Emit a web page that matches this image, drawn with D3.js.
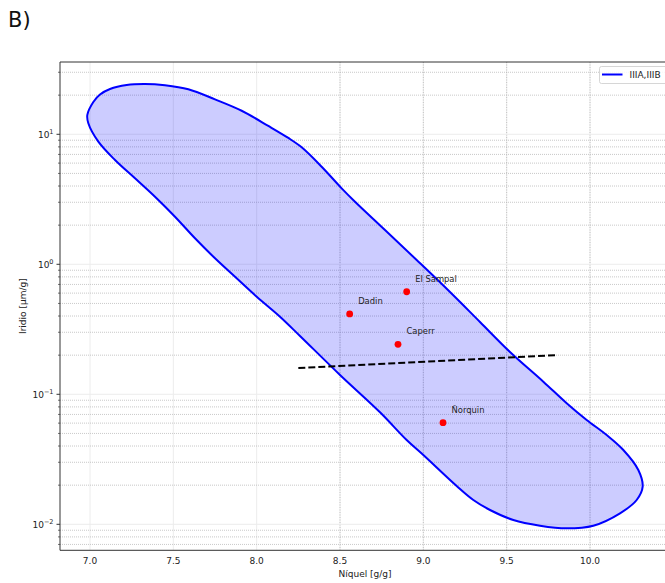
<!DOCTYPE html>
<html>
<head>
<meta charset="utf-8">
<script src="https://cdn.jsdelivr.net/npm/d3@7"></script>
<style>
  body { margin: 0; background: #fff; }
  svg { display: block; font-family: "DejaVu Sans", sans-serif; }
</style>
</head>
<body>
<svg id="chart" width="665" height="583"></svg>
<script>
// ---- data ----
const niquelContour = [6.984, 7.020, 7.060, 7.120, 7.220, 7.330, 7.450, 7.590, 7.750, 7.910, 8.070, 8.190, 8.270, 8.390, 8.510, 8.590, 8.770, 8.960, 9.160, 9.340, 9.520, 9.720, 9.860, 9.980, 10.100, 10.200, 10.290, 10.316, 10.280, 10.180, 10.020, 9.860, 9.700, 9.540, 9.400, 9.300, 9.200, 9.000, 8.900, 8.740, 8.500, 8.260, 8.140, 8.002, 7.880, 7.750, 7.630, 7.510, 7.390, 7.270, 7.150, 7.050, 6.990];
const iridioContour = [14.08, 17.72, 20.24, 22.31, 23.95, 24.37, 23.82, 22.19, 18.55, 15.17, 11.59, 9.37, 7.94, 5.63, 3.84, 3.03, 1.835, 1.079, 0.612, 0.360, 0.2115, 0.125, 0.0853, 0.0634, 0.0486, 0.0373, 0.02617, 0.01947, 0.01538, 0.01215, 0.00976, 0.00932, 0.00976, 0.01079, 0.01288, 0.01538, 0.0197, 0.0341, 0.0445, 0.0727, 0.1408, 0.2809, 0.3953, 0.5604, 0.7804, 1.112, 1.585, 2.323, 3.311, 4.587, 6.344, 8.772, 12.15];

const meteoritos = ["El Sampal", "Dadin", "Caperr", "Ñorquin"];
const niquelPts = [8.90, 8.558, 8.848, 9.118];
const iridioPts = [0.615, 0.415, 0.2425, 0.0605];

const lineaNiquel = [8.25, 9.80];
const lineaIridio = [0.159, 0.200];

const xTicks = [7.0, 7.5, 8.0, 8.5, 9.0, 9.5, 10.0];
const yMajorExp = [-2, -1, 0, 1];
const legendLabel = "IIIA,IIIB";
const panelLabel = "B)";
const xLabel = "Níquel [g/g]";
const yLabel = "Iridio [μm/g]";

// ---- layout ----
const svg = d3.select("#chart");
const L = 60, R = 670, T = 62, B = 550.3;

const x = d3.scaleLinear().domain([6.82, 10.48]).range([L, R]);
const y = d3.scaleLog().domain([Math.pow(10, -2.2), Math.pow(10, 1.556)]).range([B, T]);

// clip
svg.append("defs").append("clipPath").attr("id", "clip")
  .append("rect").attr("x", L).attr("y", T).attr("width", R - L).attr("height", B - T);

const grid = svg.append("g").attr("clip-path", "url(#clip)");

// minor y values
const yMinor = [];
for (let e = -3; e <= 1; e++) {
  for (let m = 2; m <= 9; m++) {
    const v = m * Math.pow(10, e);
    if (v >= y.domain()[0] && v <= y.domain()[1]) yMinor.push(v);
  }
}
const yMajor = yMajorExp.map(e => Math.pow(10, e));

// major faint grid
grid.selectAll(".gx").data(xTicks).join("line")
  .attr("x1", d => x(d)).attr("x2", d => x(d)).attr("y1", T).attr("y2", B)
  .attr("stroke", "#ececec").attr("stroke-width", 1);
grid.selectAll(".gxd").data(xTicks.filter(d => d >= 8.5)).join("line")
  .attr("x1", d => x(d)).attr("x2", d => x(d)).attr("y1", T).attr("y2", B)
  .attr("stroke", "#bdbdbd").attr("stroke-width", 0.9).attr("stroke-dasharray", "1,1.5");
grid.selectAll(".gy").data(yMajor).join("line")
  .attr("x1", L).attr("x2", R).attr("y1", d => y(d)).attr("y2", d => y(d))
  .attr("stroke", "#ececec").attr("stroke-width", 1);
grid.selectAll(".gym").data(yMinor).join("line")
  .attr("x1", L).attr("x2", R).attr("y1", d => y(d)).attr("y2", d => y(d))
  .attr("stroke", "#bababa").attr("stroke-width", 0.8).attr("stroke-dasharray", "1,1");

// contour
const contour = niquelContour.map((v, i) => [x(v), y(iridioContour[i])]);
const lineGen = d3.line().curve(d3.curveCatmullRomClosed.alpha(0.5));
grid.append("path").attr("d", lineGen(contour))
  .attr("fill", "#0000ff").attr("fill-opacity", 0.2)
  .attr("stroke", "#0000ff").attr("stroke-width", 2);

// dashed line
grid.append("line")
  .attr("x1", x(lineaNiquel[0])).attr("y1", y(lineaIridio[0]))
  .attr("x2", x(lineaNiquel[1])).attr("y2", y(lineaIridio[1]))
  .attr("stroke", "#000").attr("stroke-width", 2).attr("stroke-dasharray", "7,3");

// points
grid.selectAll(".pt").data(meteoritos).join("circle")
  .attr("cx", (d, i) => x(niquelPts[i])).attr("cy", (d, i) => y(iridioPts[i]))
  .attr("r", 3.4).attr("fill", "#ff0000");
grid.selectAll(".lbl").data(meteoritos).join("text")
  .attr("x", (d, i) => x(niquelPts[i]) + 8.5).attr("y", (d, i) => y(iridioPts[i]) - 10)
  .attr("font-size", 8.4).attr("fill", "#222").text(d => d);

// spines
svg.append("line").attr("x1", L).attr("x2", L).attr("y1", T).attr("y2", B).attr("stroke", "#333").attr("stroke-width", 1);
svg.append("line").attr("x1", L).attr("x2", R).attr("y1", B).attr("y2", B).attr("stroke", "#333").attr("stroke-width", 1);
svg.append("line").attr("x1", L).attr("x2", R).attr("y1", T).attr("y2", T).attr("stroke", "#333").attr("stroke-width", 1);

// x tick labels
svg.selectAll(".xt").data(xTicks).join("text")
  .attr("x", d => x(d)).attr("y", 564).attr("text-anchor", "middle")
  .attr("font-size", 9).attr("fill", "#222").text(d => d.toFixed(1));

// y ticks
svg.selectAll(".ytM").data(yMajor).join("line")
  .attr("x1", L - 3.5).attr("x2", L).attr("y1", d => y(d)).attr("y2", d => y(d))
  .attr("stroke", "#333").attr("stroke-width", 1);
svg.selectAll(".ytm").data(yMinor).join("line")
  .attr("x1", L - 2).attr("x2", L).attr("y1", d => y(d)).attr("y2", d => y(d))
  .attr("stroke", "#333").attr("stroke-width", 0.7);
const yl = svg.selectAll(".ytl").data(yMajorExp).join("text")
  .attr("x", 53.5).attr("y", d => y(Math.pow(10, d)) + 3.5).attr("text-anchor", "end")
  .attr("font-size", 9).attr("fill", "#222");
yl.append("tspan").text("10");
yl.append("tspan").attr("dy", -4).attr("font-size", 6.5).text(d => d < 0 ? "\u2212" + (-d) : String(d));

// axis labels
svg.append("text").attr("x", (L + R) / 2).attr("y", 576.5).attr("text-anchor", "middle")
  .attr("font-size", 9).attr("fill", "#222").text(xLabel);
svg.append("text").attr("transform", `translate(26,${(T + B) / 2}) rotate(-90)`)
  .attr("text-anchor", "middle").attr("font-size", 9).attr("fill", "#222").text(yLabel);

// panel label
svg.append("text").attr("x", 8).attr("y", 27).attr("font-size", 21).attr("fill", "#111").text(panelLabel);

// legend
const lg = svg.append("g");
lg.append("rect").attr("x", 599.5).attr("y", 66.5).attr("width", 80).attr("height", 17)
  .attr("rx", 2).attr("fill", "#fff").attr("fill-opacity", 0.85).attr("stroke", "#cccccc").attr("stroke-width", 0.8);
lg.append("line").attr("x1", 602).attr("x2", 622.5).attr("y1", 74.5).attr("y2", 74.5)
  .attr("stroke", "#0000ff").attr("stroke-width", 2);
lg.append("text").attr("x", 629.5).attr("y", 78).attr("font-size", 9).attr("fill", "#222").text(legendLabel);
</script>
</body>
</html>
